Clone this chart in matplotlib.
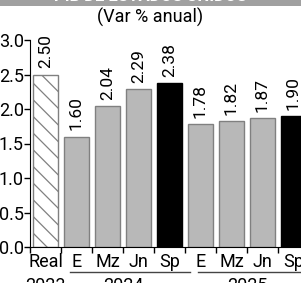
import matplotlib.pyplot as plt
import matplotlib.transforms as mtransforms
from matplotlib.patches import Rectangle
from matplotlib.lines import Line2D

plt.rcParams['font.family'] = ['Roboto', 'DejaVu Sans']
plt.rcParams['hatch.color'] = '#808080'
plt.rcParams['hatch.linewidth'] = 0.9

labels = ['Real', 'E', 'Mz', 'Jn', 'Sp', 'E', 'Mz', 'Jn', 'Sp']
values = [2.50, 1.60, 2.04, 2.29, 2.38, 1.78, 1.82, 1.87, 1.90]
kinds = ['real', 'est', 'est', 'est', 'sp', 'est', 'est', 'est', 'sp']
years = ['2023', '2024', '2025']
year_centers = [0, 2.5, 6.5]
year_spans = [(0.79, 4.66), (4.92, 8.6)]

fig = plt.figure(figsize=(3.01, 2.83), dpi=100)
ax = fig.add_axes([30 / 301, 36 / 283, 279 / 301, 207 / 283])

x = list(range(len(values)))
for xi, v, k in zip(x, values, kinds):
    if k == 'real':
        ax.bar(xi, v, width=0.82, color='white', edgecolor='#808080',
               hatch='\\\\', linewidth=1)
    elif k == 'sp':
        ax.bar(xi, v, width=0.82, color='black', edgecolor='black', linewidth=1)
    else:
        ax.bar(xi, v, width=0.82, color='#b8b8b8', edgecolor='#808080', linewidth=1)
    ax.text(xi, v + 0.09, f'{v:.2f}', rotation=90, ha='center', va='bottom',
            fontsize=12.5)

ax.set_xlim(-0.5, 8.5)
ax.set_ylim(0, 3.0)
ax.set_yticks([0, 0.5, 1.0, 1.5, 2.0, 2.5, 3.0])
ax.set_yticklabels(['0.0', '0.5', '1.0', '1.5', '2.0', '2.5', '3.0'], fontsize=13)
ax.set_xticks(x)
ax.set_xticklabels(labels, fontsize=13)
ax.set_xticks([i + 0.5 for i in range(-1, 9)], minor=True)
ax.tick_params(axis='x', which='major', length=0, pad=4)
ax.tick_params(axis='x', which='minor', length=4, width=1)
ax.tick_params(axis='y', length=4, width=1, pad=0.5)
ax.spines['top'].set_visible(False)
ax.spines['right'].set_visible(False)

trans = mtransforms.blended_transform_factory(ax.transData, ax.transAxes)
for yr, cx in zip(years, year_centers):
    ax.text(cx, -0.145, yr, transform=trans, ha='center', va='top', fontsize=13,
            clip_on=False)
for x0, x1 in year_spans:
    ax.add_line(Line2D([x0, x1], [-0.12, -0.12], transform=trans,
                       color='#444444', linewidth=1.0, clip_on=False))

fig.text(0.5, 1 - 17 / 283, '(Var % anual)', ha='center', va='center', fontsize=13)
fig.patches.append(Rectangle((0, 1 - 6 / 283), 1, 6 / 283, transform=fig.transFigure,
                             facecolor='#a0a0a0', edgecolor='none'))
fig.text(0.5, 1 - 4 / 283, 'PIB DE ESTADOS UNIDOS', ha='center', va='bottom',
         color='white', fontsize=12, fontweight='bold')

fig.savefig('out.png', dpi=100)
